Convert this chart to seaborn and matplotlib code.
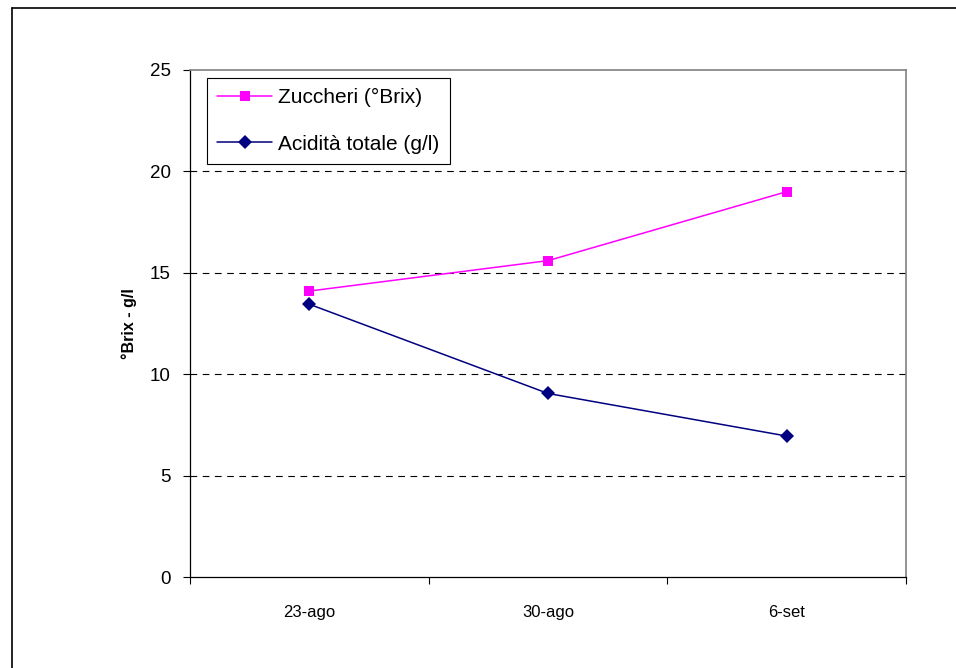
import numpy as np
import pandas as pd
import seaborn as sns
import matplotlib.pyplot as plt
from matplotlib.lines import Line2D

dates = ["23-ago", "30-ago", "6-set"]
zuccheri = [14.1, 15.6, 19.0]
acidita = [13.45, 9.05, 6.95]

sns.set_theme(style="white")
plt.rcParams['font.family'] = ['Liberation Sans', 'DejaVu Sans']
plt.rcParams['text.color'] = 'black'
plt.rcParams['axes.labelcolor'] = 'black'
plt.rcParams['xtick.color'] = 'black'
plt.rcParams['ytick.color'] = 'black'

pos = np.arange(len(dates)) + 0.5
df = pd.DataFrame({
    "x": np.concatenate([pos, pos]),
    "y": zuccheri + acidita,
    "serie": ["Zuccheri (°Brix)"] * 3 + ["Acidità totale (g/l)"] * 3,
})

fig = plt.figure(figsize=(9.56, 6.68), dpi=100)
ax = fig.add_axes([190 / 956, 1 - 577 / 668, 716 / 956, 507 / 668])

sns.lineplot(data=df, x="x", y="y", hue="serie", style="serie",
             palette=["#FF00FF", "#000080"], markers=["s", "D"], dashes=False,
             markersize=7.5, markeredgewidth=0, linewidth=1.1, ax=ax)

# griglia tratteggiata
for v in [5, 10, 15, 20]:
    ax.axhline(v, color="black", linestyle=(0, (6, 5)), linewidth=0.8, zorder=0)

ax.set_xlim(0, 3)
ax.set_ylim(0, 25)
ax.set_yticks([0, 5, 10, 15, 20, 25])
ax.set_xticks([0, 1, 2, 3])
ax.set_xticklabels([])
ax.set_xticks(pos, minor=True)
ax.set_xticklabels(dates, minor=True)
ax.tick_params(axis="x", which="minor", length=0, pad=20, labelsize=12)
ax.tick_params(axis="x", which="major", direction="out", length=5, width=0.8)
ax.tick_params(axis="y", direction="out", length=5, width=0.8, labelsize=13.5, pad=9)
ax.tick_params(bottom=True, left=True)

ax.set_xlabel("")
ax.set_ylabel("°Brix - g/l", fontsize=11.5, fontweight="bold", labelpad=9)

for s in ["top", "right"]:
    ax.spines[s].set_color("#808080")
    ax.spines[s].set_linewidth(1.2)
for s in ["left", "bottom"]:
    ax.spines[s].set_color("black")
    ax.spines[s].set_linewidth(0.9)

leg = ax.legend(loc="upper left", bbox_to_anchor=(17 / 716, 1 - 8 / 507), fontsize=15,
                frameon=True, fancybox=False, edgecolor="black", framealpha=1,
                handlelength=2.6, handletextpad=0.3, borderpad=0.5, labelspacing=1.3,
                borderaxespad=0)
leg.get_frame().set_linewidth(0.8)

# cornice esterna del grafico
fig.add_artist(Line2D([12 / 956, 12 / 956], [0, 1 - 8 / 668], color="black", linewidth=1.2,
                      transform=fig.transFigure))
fig.add_artist(Line2D([12 / 956, 1], [1 - 8 / 668, 1 - 8 / 668], color="black", linewidth=1.2,
                      transform=fig.transFigure))

fig.savefig("out.png", dpi=100, facecolor="white")
